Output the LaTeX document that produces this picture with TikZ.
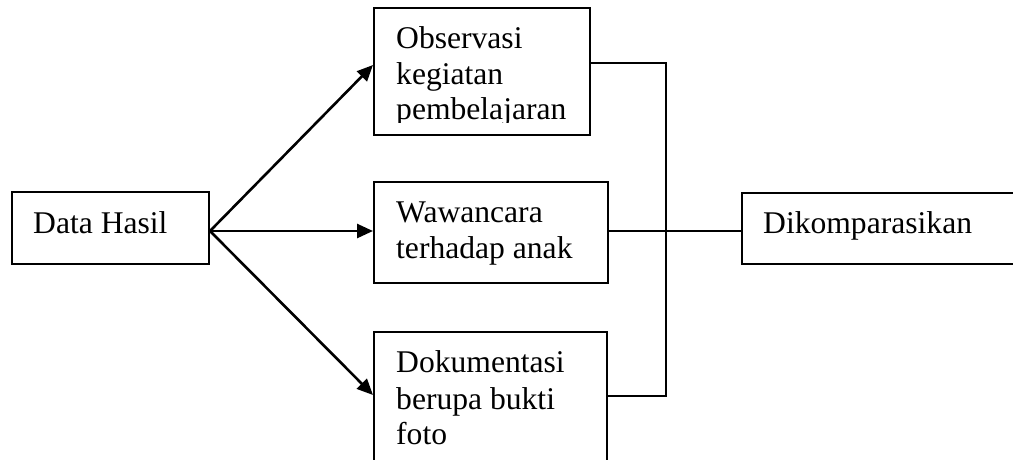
\documentclass[tikz,border=0pt]{standalone}
\usepackage{fontspec}
\setmainfont{Liberation Serif}
\usetikzlibrary{arrows.meta}
\begin{document}
\begin{tikzpicture}[x=1pt,y=-1pt,
  box/.style={draw=black,line width=2pt,rectangle,inner sep=0pt,fill=white},
  txt/.style={anchor=base west,inner sep=0pt,font=\fontsize{31.6}{36}\selectfont},
  arr/.style={line width=2.6pt,-{Triangle[length=16pt,width=14pt]}},
  con/.style={line width=2pt}]
\clip (0,0) rectangle (1013,459);
\fill[white] (0,0) rectangle (1013,459);
% boxes
\node[box,minimum width=197pt,minimum height=72pt] (data) at (110.5,228) {};
\node[box,minimum width=216pt,minimum height=127pt] (obs) at (482,71.5) {};
\node[box,minimum width=234pt,minimum height=101pt] (waw) at (491,232.5) {};
\node[box,minimum width=233pt,minimum height=140pt] (dok) at (490.5,402) {};
\node[box,minimum width=280pt,minimum height=71pt] (dik) at (882,228.5) {};
% texts
\node[txt] (tdata) at (33,233) {Data Hasil};
\begin{scope}
\clip (376,10) rectangle (588,122);
\node[txt] (tobs1) at (396,48) {Observasi};
\node[txt] (tobs2) at (396,84) {kegiatan};
\node[txt] (tobs3) at (396,119) {pembelajaran};
\end{scope}
\node[txt] (twaw1) at (396,222) {Wawancara};
\node[txt] (twaw2) at (396,258) {terhadap anak};
\node[txt] (tdok1) at (396,372) {Dokumentasi};
\node[txt] (tdok2) at (396,409) {berupa bukti};
\node[txt] (tdok3) at (396,444) {foto};
\node[txt] (tdik) at (763,233) {Dikomparasikan};
% arrows
\coordinate (src) at ([yshift=-3pt]data.east);
\draw[arr] (src) -- ([yshift=6.5pt]obs.west);
\draw[arr] (src) -- ([yshift=1.5pt]waw.west);
\draw[arr] (src) -- ([yshift=7pt]dok.west);
% connectors
\coordinate (bt) at (666,63);
\coordinate (bb) at (666,396);
\draw[con] ([yshift=8.5pt]obs.east) -- (bt) -- (bb) -- ([yshift=6pt]dok.east);
\draw[con] ([yshift=1.5pt]waw.east) -- ([yshift=-2.5pt]dik.west);
\end{tikzpicture}
\end{document}
